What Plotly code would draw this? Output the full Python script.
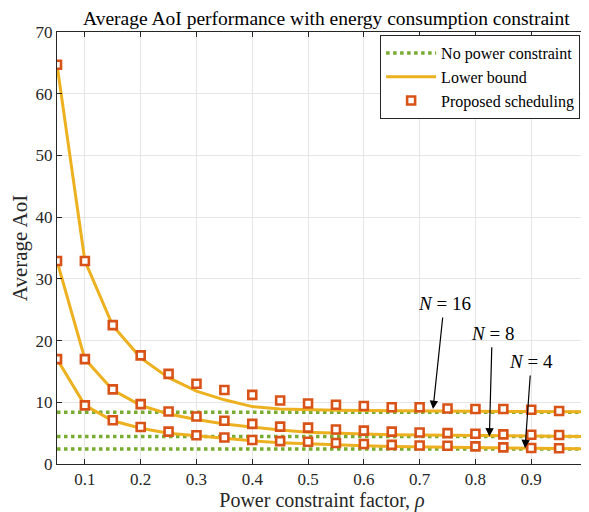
import plotly.graph_objects as go

rho = [0.05, 0.10, 0.15, 0.20, 0.25, 0.30, 0.35, 0.40, 0.45, 0.50,
       0.55, 0.60, 0.65, 0.70, 0.75, 0.80, 0.85, 0.90, 0.95, 1.00]

prop_16 = [64.7, 32.9, 22.5, 17.6, 14.6, 13.0, 12.0, 11.2, 10.3, 9.8,
           9.6, 9.4, 9.2, 9.2, 9.0, 8.9, 8.9, 8.8, 8.6, 8.5]
prop_8 = [32.9, 17.0, 12.1, 9.7, 8.5, 7.7, 7.0, 6.5, 6.05, 5.9,
          5.6, 5.4, 5.25, 5.1, 5.0, 4.9, 4.8, 4.75, 4.7, 4.6]
prop_4 = [17.0, 9.5, 7.1, 6.0, 5.25, 4.65, 4.3, 3.9, 3.7, 3.6,
          3.4, 3.25, 3.1, 3.0, 2.95, 2.85, 2.7, 2.6, 2.55, 2.45]

lb_16 = [64.7, 32.9, 22.4, 17.2, 14.0, 11.8, 10.4, 9.3, 8.9, 8.75,
         8.7, 8.65, 8.6, 8.6, 8.55, 8.55, 8.5, 8.5, 8.5, 8.48]
lb_8 = [32.9, 17.0, 12.0, 9.5, 8.1, 7.2, 6.5, 6.0, 5.5, 5.15,
        4.95, 4.85, 4.75, 4.7, 4.65, 4.6, 4.55, 4.5, 4.5, 4.45]
lb_4 = [17.0, 9.5, 7.0, 5.8, 5.0, 4.55, 4.15, 3.75, 3.45, 3.25,
        3.1, 2.95, 2.85, 2.78, 2.7, 2.65, 2.6, 2.55, 2.5, 2.45]

no_pc = [8.4, 4.45, 2.45]
x_span = [0.05, 1.0]

labels = ["<i>N</i> = 16", "<i>N</i> = 8", "<i>N</i> = 4"]
arrow_x = [0.724, 0.825, 0.889]
arrow_tip = [8.9, 4.45, 2.55]
text_x = [0.744, 0.830, 0.900]
text_y = [26.0, 21.2, 16.6]

GREEN = "#77AC30"
YELLOW = "#EDB120"
ORANGE = "#D95319"
FONT = "Liberation Serif"

fig = go.Figure()

for i, v in enumerate(no_pc):
    fig.add_trace(go.Scatter(
        x=x_span, y=[v, v], mode="lines",
        line=dict(color=GREEN, width=3.5, dash="dot"),
        name="No power constraint", legendgroup="npc", showlegend=(i == 0)))

for i, s in enumerate([lb_16, lb_8, lb_4]):
    fig.add_trace(go.Scatter(
        x=rho, y=s, mode="lines",
        line=dict(color=YELLOW, width=3),
        name="Lower bound", legendgroup="lb", showlegend=(i == 0)))

for i, s in enumerate([prop_16, prop_8, prop_4]):
    fig.add_trace(go.Scatter(
        x=rho, y=s, mode="markers",
        marker=dict(symbol="square", size=8, color="white",
                    line=dict(color=ORANGE, width=2.6)),
        name="Proposed scheduling", legendgroup="ps", showlegend=(i == 0)))

for lab, ax_, tip, tx, ty in zip(labels, arrow_x, arrow_tip, text_x, text_y):
    fig.add_annotation(
        x=ax_, y=tip, ax=tx, ay=ty, axref="x", ayref="y", xref="x", yref="y",
        text=lab, showarrow=True, arrowhead=2, arrowsize=1.4, arrowwidth=1.2,
        arrowcolor="black", standoff=0, startstandoff=2,
        font=dict(family=FONT, size=19, color="black"))

axis_common = dict(
    showgrid=True, gridcolor="#E6E6E6", gridwidth=1,
    showline=True, linecolor="#262626", linewidth=1, mirror="allticks",
    ticks="inside", ticklen=5, tickcolor="#262626",
    tickfont=dict(family=FONT, size=17, color="#262626"),
    ticklabeloverflow="allow", automargin=False,
    zeroline=False)

fig.update_xaxes(
    range=[0.05, 1.0], tickvals=[0.1, 0.2, 0.3, 0.4, 0.5, 0.6, 0.7, 0.8, 0.9, 1.0],
    ticktext=["0.1", "0.2", "0.3", "0.4", "0.5", "0.6", "0.7", "0.8", "0.9", "1"],
    title=dict(text="Power constraint factor, <i>ρ</i>",
               font=dict(family=FONT, size=20, color="#262626"), standoff=2),
    **axis_common)
fig.update_yaxes(
    range=[0, 70], tickvals=[0, 10, 20, 30, 40, 50, 60, 70],
    title=dict(text="Average AoI", font=dict(family=FONT, size=21, color="#262626"),
               standoff=8),
    **axis_common)

fig.update_layout(
    width=581, height=504,
    margin=dict(l=49, r=2, t=24, b=48),
    paper_bgcolor="white", plot_bgcolor="white",
    title=dict(text="Average AoI performance with energy consumption constraint",
               x=0.548, xanchor="center", y=0.98, yanchor="middle",
               font=dict(family=FONT, size=19.5, color="black")),
    legend=dict(x=0.987, y=0.993, xanchor="right", yanchor="top",
                bgcolor="white", bordercolor="#262626", borderwidth=1,
                font=dict(family=FONT, size=16, color="black"),
                tracegroupgap=0, itemwidth=50),
    showlegend=True)

fig.write_html("out.html")
